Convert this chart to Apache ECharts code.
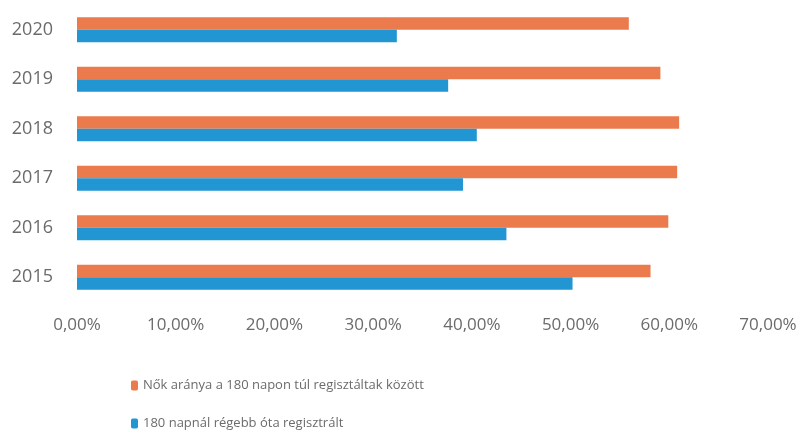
<!DOCTYPE html>
<html>
<head>
<meta charset="utf-8">
<script src="https://cdn.jsdelivr.net/npm/echarts@6/dist/echarts.min.js"></script>
<style>
    html, body { margin: 0; padding: 0; background: #fff; }
    #chart { width: 803px; height: 436px; }
</style>
</head>
<body>
<div id="chart"></div>
<script>
    var years = ['2015', '2016', '2017', '2018', '2019', '2020'];
    var nokAranya = [58.1, 59.9, 60.8, 61.0, 59.1, 55.9];
    var regebbOta = [50.2, 43.5, 39.1, 40.5, 37.6, 32.4];
    var xTicks = [0, 10, 20, 30, 40, 50, 60, 70];

    var nameOrange = 'Nők aránya a 180 napon túl regisztáltak között';
    var nameBlue = '180 napnál régebb óta regisztrált';
    var textColor = '#6b6b6b';

    function pct(v) {
        return v.toFixed(2).replace('.', ',') + '%';
    }

    function legendAt(name, top) {
        return {
            left: 126,
            top: top,
            itemWidth: 7,
            itemHeight: 10,
            data: [name],
            textStyle: {
                color: textColor,
                fontFamily: 'Open Sans',
                fontSize: 13
            }
        };
    }

    var chart = echarts.init(document.getElementById('chart'));
    chart.setOption({
        animation: false,
        grid: {
            left: 77,
            right: 35,
            top: 5,
            bottom: 134
        },
        legend: [
            legendAt(nameOrange, 374),
            legendAt(nameBlue, 412)
        ],
        xAxis: {
            type: 'value',
            min: xTicks[0],
            max: xTicks[xTicks.length - 1],
            interval: 10,
            axisLine: { show: false },
            axisTick: { show: false },
            splitLine: { show: false },
            axisLabel: {
                margin: 15,
                color: textColor,
                fontFamily: 'Open Sans',
                fontSize: 17,
                formatter: function (v) { return pct(v); }
            }
        },
        yAxis: {
            type: 'category',
            data: years,
            axisLine: { show: false },
            axisTick: { show: false },
            splitLine: { show: false },
            axisLabel: {
                margin: 24,
                color: textColor,
                fontFamily: 'Open Sans',
                fontSize: 18
            }
        },
        series: [
            {
                type: 'bar',
                name: nameOrange,
                data: nokAranya,
                barWidth: 12.5,
                barGap: '0%',
                itemStyle: { color: '#EB7B4D' }
            },
            {
                type: 'bar',
                name: nameBlue,
                data: regebbOta,
                barWidth: 12.5,
                barGap: '0%',
                itemStyle: { color: '#2196D3' }
            }
        ]
    });
</script>
</body>
</html>
